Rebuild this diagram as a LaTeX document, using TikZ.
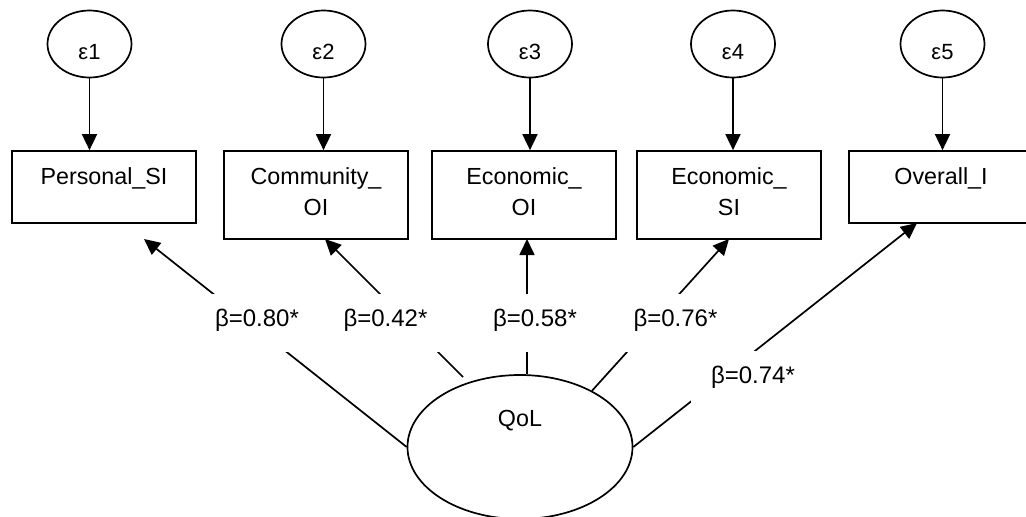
\documentclass[tikz,border=0pt]{standalone}
\usepackage{fontspec}
\setmainfont{Liberation Sans}
\usetikzlibrary{arrows.meta,shapes.geometric}
\begin{document}
\begin{tikzpicture}[x=1pt,y=-1pt,line width=1.7pt,
  errvar/.style={draw,ellipse,minimum width=84pt,minimum height=67pt,inner sep=0pt,
    font=\fontsize{22}{26}\selectfont,text height=36pt,text depth=4.4pt},
  indicator/.style={draw,rectangle,minimum width=184pt,inner xsep=0pt,inner ysep=0pt,
    align=center,font=\fontsize{23.3}{31}\selectfont},
  oneline/.style={indicator,text height=33pt,text depth=39pt},
  twoline/.style={indicator,text height=64pt,text depth=24pt},
  latent/.style={draw,ellipse,minimum width=225pt,minimum height=144pt,inner sep=0pt,
    font=\fontsize{23.3}{28}\selectfont,text height=17pt,text depth=59pt},
  coef/.style={fill=white,inner xsep=20pt,inner ysep=0pt,
    font=\fontsize{24}{28}\selectfont,text height=32.7pt,text depth=25.3pt},
  load/.style={-{Triangle[length=16pt,width=15pt]}},
]
\useasboundingbox (0,0) rectangle (1026,517);

% error terms
\node[errvar] (e1) at (89.5,44) {ε1};
\node[errvar] (e2) at (323.5,44) {ε2};
\node[errvar] (e3) at (530,44) {ε3};
\node[errvar] (e4) at (733,44) {ε4};
\node[errvar] (e5) at (942.5,44) {ε5};

% observed indicators
\node[oneline] (b1) at (104,187) {Personal\_SI};
\node[twoline] (b2) at (316,195) {Community\_\\OI};
\node[twoline] (b3) at (524,195) {Economic\_\\OI};
\node[twoline] (b4) at (729,195) {Economic\_\\SI};
\node[oneline] (b5) at (941,187) {Overall\_I};

% latent factor
\node[latent] (q) at (520,447) {QoL};

% error arrows
\foreach \i in {1,...,5}
  \draw[load] (e\i.south) -- (e\i.south |- b\i.north);

% loading end points
\coordinate (t1) at (144,239);
\coordinate (t2) at (325,239);
\coordinate (t3) at (527,239);
\coordinate (t4) at (729,239);
\coordinate (t5) at (917,223);
\coordinate (s2) at (463,377);

% factor loadings
\draw[load] (q.west) -- (t1);
\draw[load] (s2) -- (t2);
\draw[load] (q.north -| t3) -- (t3);
\draw[load] (q.38.3) -- (t4);
\draw[load] (q.east) -- (t5);

% coefficient labels
\node[coef] (l1) at (257,323) {β=0.80*};
\node[coef] (l2) at (385.5,323) {β=0.42*};
\node[coef] (l3) at (535,323) {β=0.58*};
\node[coef] (l4) at (675.5,323) {β=0.76*};
\node[coef] (l5) at (753,379.6) {β=0.74*};
\end{tikzpicture}
\end{document}
